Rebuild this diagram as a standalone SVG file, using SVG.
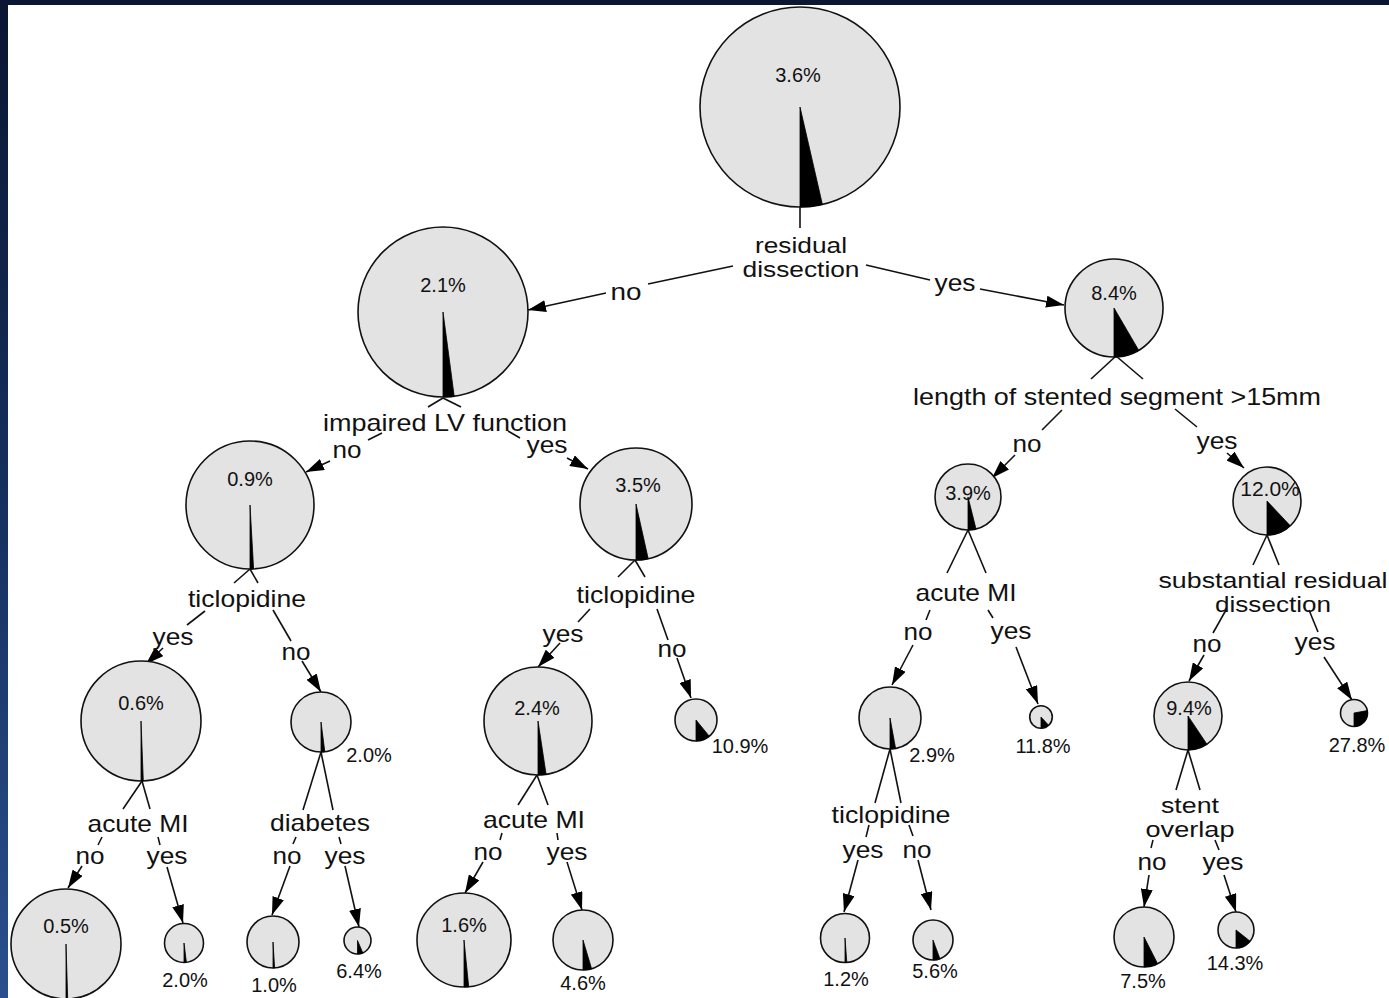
<svg xmlns="http://www.w3.org/2000/svg" width="1389" height="998" viewBox="0 0 1389 998">
<defs>
<linearGradient id="sideGrad" x1="0" y1="0" x2="0" y2="1">
<stop offset="0" stop-color="#0a1632"/>
<stop offset="0.5" stop-color="#15305e"/>
<stop offset="1" stop-color="#2b4f8e"/>
</linearGradient>
<marker id="arr" markerWidth="18" markerHeight="12" refX="18" refY="6" orient="auto" markerUnits="userSpaceOnUse">
<path d="M0,0 L18,6 L0,12 z" fill="#000"/>
</marker>
</defs>
<style>
.pie{fill:#e3e3e3;stroke:#111;stroke-width:1.6}
.wedge{fill:#000;stroke:#000;stroke-width:0.8}
.ln{stroke:#111;stroke-width:1.6;fill:none}
.ar{stroke:#111;stroke-width:1.6;fill:none;marker-end:url(#arr)}
.lab{font-family:"Liberation Sans",Arial,sans-serif;font-size:24px;fill:#111;text-anchor:middle}
.lab2{font-family:"Liberation Sans",Arial,sans-serif;font-size:21.5px;fill:#111;text-anchor:middle}
.pct{font-family:"Liberation Sans",Arial,sans-serif;font-size:20px;fill:#111;text-anchor:middle}
</style>
<rect x="0" y="0" width="1389" height="998" fill="#fff"/>
<rect x="0" y="0" width="1389" height="5" fill="#0a1632"/>
<rect x="0" y="0" width="8" height="998" fill="url(#sideGrad)"/>

<g id="connectors">
<line class="ln" x1="733" y1="266" x2="648" y2="284"/>
<line class="ar" x1="606" y1="293" x2="528" y2="310"/>
<line class="ln" x1="866" y1="265" x2="930" y2="280"/>
<line class="ar" x1="980" y1="289" x2="1064" y2="305"/>
<line class="ln" x1="443" y1="398" x2="428" y2="407"/>
<line class="ln" x1="443" y1="398" x2="461" y2="407"/>
<line class="ln" x1="382" y1="433" x2="368" y2="440"/>
<line class="ar" x1="330" y1="461" x2="306" y2="472"/>
<line class="ln" x1="508" y1="431" x2="520" y2="438"/>
<line class="ar" x1="567" y1="458" x2="588" y2="469"/>
<line class="ln" x1="250" y1="569" x2="234" y2="583"/>
<line class="ln" x1="250" y1="569" x2="258" y2="583"/>
<line class="ln" x1="205" y1="611" x2="187" y2="625"/>
<line class="ar" x1="163" y1="648" x2="146" y2="664"/>
<line class="ln" x1="273" y1="610" x2="291" y2="641"/>
<line class="ar" x1="302" y1="661" x2="321" y2="692"/>
<line class="ln" x1="142" y1="781" x2="123" y2="809"/>
<line class="ln" x1="142" y1="781" x2="150" y2="809"/>
<line class="ln" x1="102" y1="837" x2="98" y2="845"/>
<line class="ar" x1="82" y1="866" x2="68" y2="888"/>
<line class="ln" x1="158" y1="837" x2="160" y2="845"/>
<line class="ar" x1="167" y1="867" x2="183" y2="923"/>
<line class="ln" x1="321" y1="752" x2="303" y2="810"/>
<line class="ln" x1="321" y1="752" x2="333" y2="810"/>
<line class="ln" x1="296" y1="837" x2="293" y2="844"/>
<line class="ar" x1="290" y1="866" x2="272" y2="915"/>
<line class="ln" x1="339" y1="837" x2="341" y2="844"/>
<line class="ar" x1="345" y1="866" x2="359" y2="927"/>
<line class="ln" x1="635" y1="560" x2="618" y2="577"/>
<line class="ln" x1="635" y1="560" x2="645" y2="577"/>
<line class="ln" x1="590" y1="609" x2="578" y2="622"/>
<line class="ar" x1="560" y1="643" x2="538" y2="667"/>
<line class="ln" x1="657" y1="609" x2="668" y2="640"/>
<line class="ar" x1="677" y1="658" x2="691" y2="698"/>
<line class="ln" x1="537" y1="775" x2="518" y2="805"/>
<line class="ln" x1="537" y1="775" x2="548" y2="805"/>
<line class="ln" x1="502" y1="833" x2="500" y2="840"/>
<line class="ar" x1="483" y1="862" x2="465" y2="893"/>
<line class="ln" x1="557" y1="833" x2="558" y2="840"/>
<line class="ar" x1="567" y1="862" x2="582" y2="910"/>
<line class="ln" x1="1116" y1="356" x2="1091" y2="379"/>
<line class="ln" x1="1116" y1="356" x2="1143" y2="379"/>
<line class="ln" x1="1062" y1="410" x2="1042" y2="430"/>
<line class="ar" x1="1015" y1="455" x2="992" y2="478"/>
<line class="ln" x1="1175" y1="409" x2="1197" y2="427"/>
<line class="ar" x1="1227" y1="453" x2="1244" y2="468"/>
<line class="ln" x1="968" y1="530" x2="947" y2="573"/>
<line class="ln" x1="968" y1="530" x2="986" y2="573"/>
<line class="ln" x1="930" y1="610" x2="926" y2="620"/>
<line class="ar" x1="913" y1="645" x2="892" y2="685"/>
<line class="ln" x1="988" y1="610" x2="993" y2="618"/>
<line class="ar" x1="1016" y1="647" x2="1038" y2="704"/>
<line class="ln" x1="890" y1="749" x2="875" y2="803"/>
<line class="ln" x1="890" y1="749" x2="901" y2="803"/>
<line class="ln" x1="869" y1="825" x2="866" y2="837"/>
<line class="ar" x1="858" y1="860" x2="844" y2="912"/>
<line class="ln" x1="909" y1="825" x2="913" y2="836"/>
<line class="ar" x1="918" y1="860" x2="931" y2="910"/>
<line class="ln" x1="1267" y1="535" x2="1253" y2="565"/>
<line class="ln" x1="1267" y1="535" x2="1279" y2="565"/>
<line class="ln" x1="1226" y1="610" x2="1213" y2="633"/>
<line class="ar" x1="1204" y1="655" x2="1189" y2="681"/>
<line class="ln" x1="1309" y1="610" x2="1318" y2="632"/>
<line class="ar" x1="1324" y1="657" x2="1352" y2="700"/>
<line class="ln" x1="1188" y1="750" x2="1176" y2="790"/>
<line class="ln" x1="1188" y1="750" x2="1200" y2="790"/>
<line class="ln" x1="1153" y1="840" x2="1151" y2="848"/>
<line class="ar" x1="1149" y1="875" x2="1144" y2="907"/>
<line class="ln" x1="1215" y1="840" x2="1219" y2="850"/>
<line class="ar" x1="1224" y1="875" x2="1236" y2="912"/>
</g>

<g id="edge-labels">
<text class="lab" x="626" y="300" textLength="31" lengthAdjust="spacingAndGlyphs">no</text>
<text class="lab" x="955" y="291" textLength="41" lengthAdjust="spacingAndGlyphs">yes</text>
<text class="lab" x="347" y="458" textLength="29" lengthAdjust="spacingAndGlyphs">no</text>
<text class="lab" x="547" y="453" textLength="41" lengthAdjust="spacingAndGlyphs">yes</text>
<text class="lab" x="173" y="645" textLength="41" lengthAdjust="spacingAndGlyphs">yes</text>
<text class="lab" x="296" y="660" textLength="29" lengthAdjust="spacingAndGlyphs">no</text>
<text class="lab" x="90" y="864" textLength="29" lengthAdjust="spacingAndGlyphs">no</text>
<text class="lab" x="167" y="864" textLength="41" lengthAdjust="spacingAndGlyphs">yes</text>
<text class="lab" x="287" y="864" textLength="29" lengthAdjust="spacingAndGlyphs">no</text>
<text class="lab" x="345" y="864" textLength="41" lengthAdjust="spacingAndGlyphs">yes</text>
<text class="lab" x="563" y="642" textLength="41" lengthAdjust="spacingAndGlyphs">yes</text>
<text class="lab" x="672" y="657" textLength="29" lengthAdjust="spacingAndGlyphs">no</text>
<text class="lab" x="488" y="860" textLength="29" lengthAdjust="spacingAndGlyphs">no</text>
<text class="lab" x="567" y="860" textLength="41" lengthAdjust="spacingAndGlyphs">yes</text>
<text class="lab" x="1027" y="452" textLength="29" lengthAdjust="spacingAndGlyphs">no</text>
<text class="lab" x="1217" y="449" textLength="41" lengthAdjust="spacingAndGlyphs">yes</text>
<text class="lab" x="918" y="640" textLength="29" lengthAdjust="spacingAndGlyphs">no</text>
<text class="lab" x="1011" y="639" textLength="41" lengthAdjust="spacingAndGlyphs">yes</text>
<text class="lab" x="863" y="858" textLength="41" lengthAdjust="spacingAndGlyphs">yes</text>
<text class="lab" x="917" y="858" textLength="29" lengthAdjust="spacingAndGlyphs">no</text>
<text class="lab" x="1207" y="652" textLength="29" lengthAdjust="spacingAndGlyphs">no</text>
<text class="lab" x="1315" y="650" textLength="41" lengthAdjust="spacingAndGlyphs">yes</text>
<text class="lab" x="1152" y="870" textLength="29" lengthAdjust="spacingAndGlyphs">no</text>
<text class="lab" x="1223" y="870" textLength="41" lengthAdjust="spacingAndGlyphs">yes</text>
</g>

<g id="root">
<circle class="pie" cx="800" cy="107" r="100"/>
<path class="wedge" d="M800,107 L800,207 A100,100 0 0 0 822.4,204.5 Z"/>
<text class="pct" x="798" y="82">3.6%</text>
<line class="ln" x1="800" y1="207" x2="800" y2="228"/>
<text class="lab2" x="801" y="253" textLength="92" lengthAdjust="spacingAndGlyphs">residual</text>
<text class="lab2" x="801" y="277" textLength="117" lengthAdjust="spacingAndGlyphs">dissection</text>
</g>

<g id="nodeA">
<circle class="pie" cx="443" cy="312" r="85"/>
<path class="wedge" d="M443,312 L443,397 A85,85 0 0 0 454.2,396.3 Z"/>
<text class="pct" x="443" y="292">2.1%</text>
<text class="lab" x="445" y="431" textLength="244" lengthAdjust="spacingAndGlyphs">impaired LV function</text>
</g>

<g id="nodeB">
<circle class="pie" cx="1114" cy="308" r="49"/>
<path class="wedge" d="M1114,308 L1114,357 A49,49 0 0 0 1138.7,350.3 Z"/>
<text class="pct" x="1114" y="300">8.4%</text>
<text class="lab" x="1117" y="405" textLength="408" lengthAdjust="spacingAndGlyphs">length of stented segment &gt;15mm</text>
</g>

<g id="nodeC">
<circle class="pie" cx="250" cy="505" r="64"/>
<path class="wedge" d="M250,505 L250,569 A64,64 0 0 0 253.6,568.9 Z"/>
<text class="pct" x="250" y="486">0.9%</text>
<text class="lab" x="247" y="607" textLength="118" lengthAdjust="spacingAndGlyphs">ticlopidine</text>
</g>

<g id="nodeD">
<circle class="pie" cx="636" cy="504" r="56"/>
<path class="wedge" d="M636,504 L636,560 A56,56 0 0 0 648.2,558.7 Z"/>
<text class="pct" x="638" y="492">3.5%</text>
<text class="lab" x="636" y="603" textLength="119" lengthAdjust="spacingAndGlyphs">ticlopidine</text>
</g>

<g id="nodeE">
<circle class="pie" cx="141" cy="721" r="60"/>
<path class="wedge" d="M141,721 L141,781 A60,60 0 0 0 143.3,781 Z"/>
<text class="pct" x="141" y="710">0.6%</text>
<text class="lab" x="138" y="832" textLength="101" lengthAdjust="spacingAndGlyphs">acute MI</text>
</g>

<g id="nodeF">
<circle class="pie" cx="321" cy="722" r="30"/>
<path class="wedge" d="M321,722 L321,752 A30,30 0 0 0 324.8,751.8 Z"/>
<text class="pct" x="369" y="762">2.0%</text>
<text class="lab" x="320" y="831" textLength="100" lengthAdjust="spacingAndGlyphs">diabetes</text>
</g>

<g id="nodeG">
<circle class="pie" cx="66" cy="944" r="55"/>
<path class="wedge" d="M66,944 L66,999 A55,55 0 0 0 67.7,999 Z"/>
<text class="pct" x="66" y="933">0.5%</text>
</g>

<g id="nodeH">
<circle class="pie" cx="184" cy="943" r="19.5"/>
<path class="wedge" d="M184,943 L184,962.5 A19.5,19.5 0 0 0 186.4,962.3 Z"/>
<text class="pct" x="185" y="987">2.0%</text>
</g>

<g id="nodeI">
<circle class="pie" cx="273" cy="942" r="26"/>
<path class="wedge" d="M273,942 L273,968 A26,26 0 0 0 274.6,967.9 Z"/>
<text class="pct" x="274" y="992">1.0%</text>
</g>

<g id="nodeJ">
<circle class="pie" cx="357.5" cy="940.5" r="13.5"/>
<path class="wedge" d="M357.5,940.5 L357.5,954 A13.5,13.5 0 0 0 362.8,952.9 Z"/>
<text class="pct" x="359" y="978">6.4%</text>
</g>

<g id="nodeK">
<circle class="pie" cx="538" cy="721" r="54"/>
<path class="wedge" d="M538,721 L538,775 A54,54 0 0 0 546.1,774.4 Z"/>
<text class="pct" x="537" y="715">2.4%</text>
<text class="lab" x="534" y="828" textLength="102" lengthAdjust="spacingAndGlyphs">acute MI</text>
</g>

<g id="nodeL">
<circle class="pie" cx="696" cy="720" r="21"/>
<path class="wedge" d="M696,720 L696,741 A21,21 0 0 0 709.3,736.3 Z"/>
<text class="pct" x="740" y="753">10.9%</text>
</g>

<g id="nodeM">
<circle class="pie" cx="464" cy="940" r="47"/>
<path class="wedge" d="M464,940 L464,987 A47,47 0 0 0 468.7,986.8 Z"/>
<text class="pct" x="464" y="932">1.6%</text>
</g>

<g id="nodeN">
<circle class="pie" cx="583" cy="940" r="30"/>
<path class="wedge" d="M583,940 L583,970 A30,30 0 0 0 591.6,968.8 Z"/>
<text class="pct" x="583" y="990">4.6%</text>
</g>

<g id="nodeO">
<circle class="pie" cx="968" cy="497" r="33"/>
<path class="wedge" d="M968,497 L968,530 A33,33 0 0 0 976,529 Z"/>
<text class="pct" x="968" y="500">3.9%</text>
<text class="lab" x="966" y="601" textLength="101" lengthAdjust="spacingAndGlyphs">acute MI</text>
</g>

<g id="nodeP">
<circle class="pie" cx="1267" cy="501" r="34"/>
<path class="wedge" d="M1267,501 L1267,535 A34,34 0 0 0 1290.3,525.8 Z"/>
<text class="pct" x="1270" y="496" style="font-size:21px">12.0%</text>
<text class="lab2" x="1273" y="588" textLength="229" lengthAdjust="spacingAndGlyphs">substantial residual</text>
<text class="lab2" x="1273" y="612" textLength="116" lengthAdjust="spacingAndGlyphs">dissection</text>
</g>

<g id="nodeQ">
<circle class="pie" cx="890" cy="718" r="31"/>
<path class="wedge" d="M890,718 L890,749 A31,31 0 0 0 895.6,748.5 Z"/>
<text class="pct" x="932" y="762">2.9%</text>
<text class="lab" x="891" y="823" textLength="119" lengthAdjust="spacingAndGlyphs">ticlopidine</text>
</g>

<g id="nodeR">
<circle class="pie" cx="1041" cy="717" r="11.3"/>
<path class="wedge" d="M1041,717 L1041,728.3 A11.3,11.3 0 0 0 1048.6,725.3 Z"/>
<text class="pct" x="1043" y="753">11.8%</text>
</g>

<g id="nodeS">
<circle class="pie" cx="845" cy="938" r="24.5"/>
<path class="wedge" d="M845,938 L845,962.5 A24.5,24.5 0 0 0 846.8,962.4 Z"/>
<text class="pct" x="846" y="986">1.2%</text>
</g>

<g id="nodeT">
<circle class="pie" cx="933" cy="940" r="20"/>
<path class="wedge" d="M933,940 L933,960 A20,20 0 0 0 939.9,958.8 Z"/>
<text class="pct" x="935" y="978">5.6%</text>
</g>

<g id="nodeU">
<circle class="pie" cx="1188" cy="716" r="34"/>
<path class="wedge" d="M1188,716 L1188,750 A34,34 0 0 0 1206.9,744.2 Z"/>
<text class="pct" x="1189" y="715">9.4%</text>
<text class="lab2" x="1190" y="813" textLength="58" lengthAdjust="spacingAndGlyphs">stent</text>
<text class="lab2" x="1190" y="837" textLength="89" lengthAdjust="spacingAndGlyphs">overlap</text>
</g>

<g id="nodeV">
<circle class="pie" cx="1354" cy="713" r="13.5"/>
<path class="wedge" d="M1354,713 L1354,726.5 A13.5,13.5 0 0 0 1367.3,710.6 Z"/>
<text class="pct" x="1357" y="752">27.8%</text>
</g>

<g id="nodeW">
<circle class="pie" cx="1144" cy="937" r="30"/>
<path class="wedge" d="M1144,937 L1144,967 A30,30 0 0 0 1157.6,963.7 Z"/>
<text class="pct" x="1143" y="988">7.5%</text>
</g>

<g id="nodeX">
<circle class="pie" cx="1236" cy="930" r="18"/>
<path class="wedge" d="M1236,930 L1236,948 A18,18 0 0 0 1250.1,941.2 Z"/>
<text class="pct" x="1235" y="970">14.3%</text>
</g>
</svg>
